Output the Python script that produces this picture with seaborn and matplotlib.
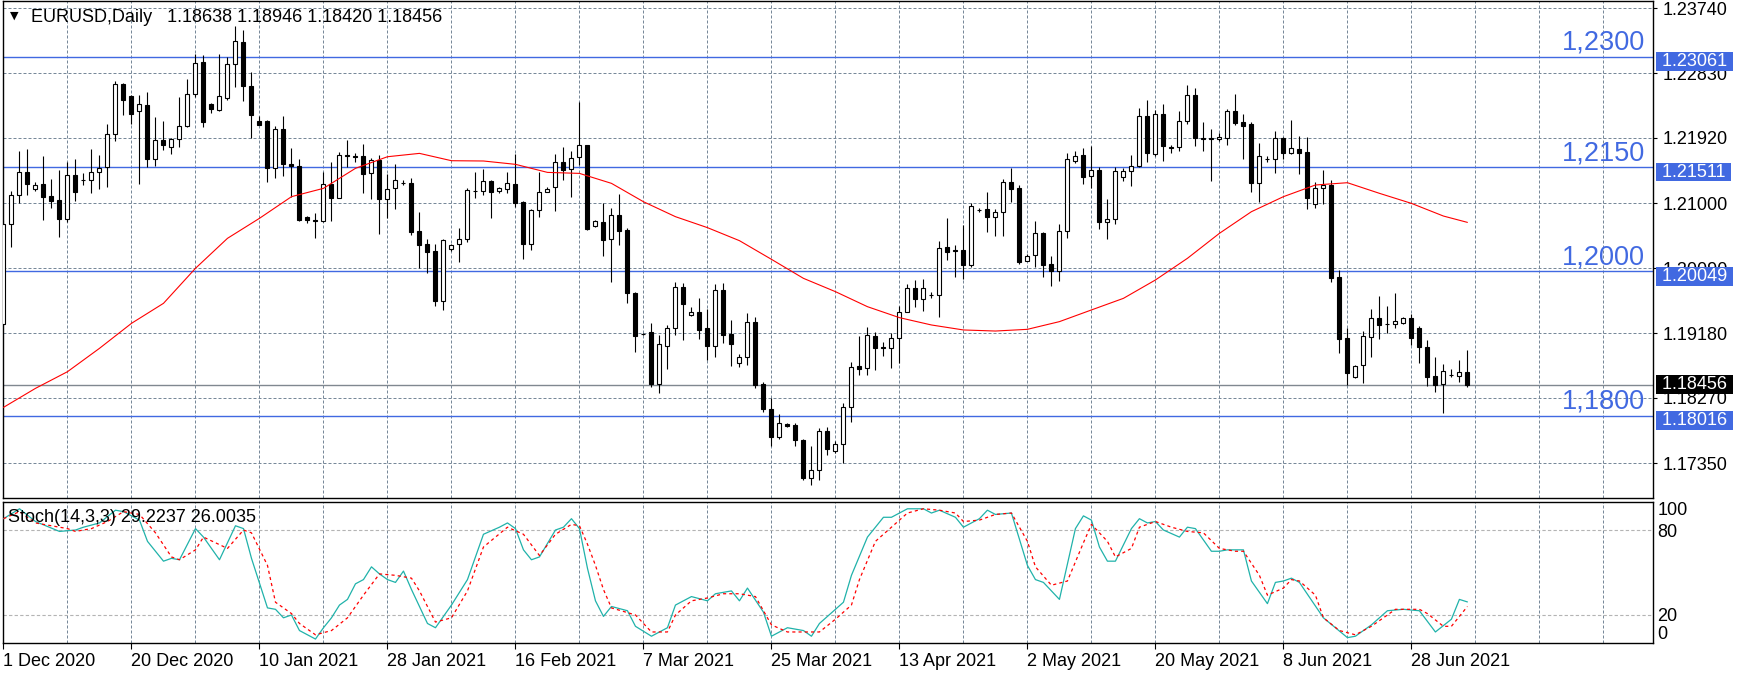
import matplotlib
matplotlib.use("Agg")
import matplotlib.pyplot as plt
from matplotlib.ticker import MultipleLocator
import seaborn as sns
import numpy as np

# EURUSD daily candles (bar 0 = 1 Dec 2020)
opens = [
    1.19307, 1.20706, 1.21113, 1.21436, 1.21198, 1.21273, 1.21100, 1.21043, 1.20786, 1.21394,
    1.21329, 1.21324, 1.21436, 1.21507, 1.21970, 1.22673, 1.22504, 1.22294, 1.22378, 1.21628,
    1.21886, 1.21797, 1.21900, 1.22083, 1.22542, 1.22987, 1.22397, 1.22317, 1.22476, 1.22954,
    1.23263, 1.22645, 1.22158, 1.22158, 1.21502, 1.22046, 1.21553, 1.21530, 1.20809, 1.20762,
    1.20758, 1.21273, 1.21081, 1.21675, 1.21661, 1.21666, 1.21422, 1.21610, 1.21067, 1.21212,
    1.21291, 1.21286, 1.20613, 1.20426, 1.20332, 1.19635, 1.20365, 1.20426, 1.20505, 1.21179,
    1.21174, 1.21315, 1.21179, 1.21207, 1.21273, 1.21020, 1.20435, 1.20903, 1.21165, 1.21226,
    1.21577, 1.21479, 1.21647, 1.21815, 1.20678, 1.20734, 1.20496, 1.20833, 1.20627, 1.19742,
    1.19171, 1.19190, 1.18468, 1.19003, 1.19246, 1.19822, 1.19429, 1.19471, 1.19246, 1.19003,
    1.19780, 1.19166, 1.18754, 1.18843, 1.19330, 1.18459, 1.18108, 1.17724, 1.17907, 1.17883,
    1.17673, 1.17150, 1.17256, 1.17804, 1.17518, 1.17617, 1.18136, 1.18716, 1.18693, 1.19138,
    1.18979, 1.18974, 1.19115, 1.19480, 1.19808, 1.19663, 1.19714, 1.19710, 1.20384, 1.20346,
    1.20346, 1.20140, 1.20908, 1.20917, 1.20814, 1.20875, 1.21305, 1.21216, 1.20196, 1.20271,
    1.20585, 1.20149, 1.20046, 1.20613, 1.21591, 1.21675, 1.21380, 1.21465, 1.20734, 1.20776,
    1.21366, 1.21450, 1.21520, 1.22223, 1.21699, 1.22251, 1.21797, 1.21788, 1.22153, 1.22518,
    1.21914, 1.21910, 1.21900, 1.21923, 1.22299, 1.22144, 1.22116, 1.21291, 1.21624, 1.21628,
    1.21919, 1.21703, 1.21759, 1.21717, 1.20988, 1.21212, 1.21254, 1.19967, 1.19110, 1.18558,
    1.18735, 1.19120, 1.19387, 1.19307, 1.19302, 1.19316, 1.19387, 1.19246, 1.18984, 1.18572,
    1.18459, 1.18590, 1.18581, 1.18638]
highs = [
    1.20767, 1.21174, 1.21736, 1.21764, 1.21301, 1.21670, 1.21343, 1.21465, 1.21577, 1.21619,
    1.21422, 1.21764, 1.21680, 1.22116, 1.22724, 1.22696, 1.22523, 1.22523, 1.22561, 1.22214,
    1.22158, 1.21923, 1.22490, 1.22748, 1.23099, 1.23085, 1.22406, 1.23099, 1.23052, 1.23492,
    1.23436, 1.22846, 1.22228, 1.22167, 1.22083, 1.22224, 1.21778, 1.21624, 1.20823, 1.20861,
    1.21446, 1.21577, 1.21717, 1.21890, 1.21703, 1.21834, 1.21638, 1.21675, 1.21418, 1.21553,
    1.21324, 1.21352, 1.20879, 1.20496, 1.20430, 1.20496, 1.20435, 1.20655, 1.21221, 1.21441,
    1.21479, 1.21329, 1.21230, 1.21441, 1.21694, 1.21034, 1.20926, 1.21441, 1.21226, 1.21694,
    1.21792, 1.21736, 1.22420, 1.21818, 1.20767, 1.21001, 1.20931, 1.21127, 1.20650, 1.19756,
    1.19185, 1.19321, 1.19153, 1.19293, 1.19897, 1.19878, 1.19541, 1.19667, 1.19518, 1.19869,
    1.19878, 1.19359, 1.18885, 1.19461, 1.19410, 1.18496, 1.18272, 1.18038, 1.17916, 1.17916,
    1.17690, 1.17593, 1.17851, 1.17865, 1.17663, 1.18192, 1.18768, 1.19138, 1.19260, 1.19190,
    1.19050, 1.19185, 1.19560, 1.19869, 1.19925, 1.19939, 1.19752, 1.20477, 1.20795, 1.20416,
    1.20697, 1.21001, 1.20936, 1.21160, 1.20922, 1.21338, 1.21502, 1.21259, 1.20290, 1.20753,
    1.20603, 1.20262, 1.20711, 1.21703, 1.21736, 1.21778, 1.21811, 1.21511, 1.21062, 1.21507,
    1.21497, 1.21680, 1.22336, 1.22453, 1.22313, 1.22392, 1.21816, 1.22299, 1.22664, 1.22617,
    1.22144, 1.22046, 1.21989, 1.22331, 1.22537, 1.22256, 1.22139, 1.21844, 1.21661, 1.22022,
    1.21938, 1.22172, 1.21947, 1.21938, 1.21296, 1.21469, 1.21329, 1.20065, 1.19246, 1.18726,
    1.19208, 1.19518, 1.19700, 1.19560, 1.19738, 1.19401, 1.19443, 1.19284, 1.19082, 1.18843,
    1.18745, 1.18669, 1.18801, 1.18946]
lows = [
    1.19293, 1.20393, 1.21001, 1.21113, 1.21179, 1.20767, 1.20936, 1.20533, 1.20744, 1.21034,
    1.21259, 1.21142, 1.21207, 1.21235, 1.21881, 1.22242, 1.22121, 1.21277, 1.21507, 1.21530,
    1.21755, 1.21694, 1.21797, 1.22079, 1.22500, 1.22079, 1.22266, 1.22303, 1.22453, 1.22640,
    1.22444, 1.21918, 1.22097, 1.21305, 1.21362, 1.21390, 1.21095, 1.20758, 1.20730, 1.20519,
    1.20744, 1.20758, 1.21081, 1.21516, 1.21582, 1.21151, 1.21062, 1.20571, 1.20791, 1.20922,
    1.21254, 1.20552, 1.20093, 1.20028, 1.19560, 1.19504, 1.20337, 1.20182, 1.20463, 1.21081,
    1.21118, 1.20800, 1.21151, 1.21151, 1.20945, 1.20224, 1.20346, 1.20809, 1.21160, 1.20898,
    1.21329, 1.21086, 1.21544, 1.20627, 1.20674, 1.20266, 1.19901, 1.20416, 1.19607, 1.18919,
    1.19157, 1.18426, 1.18342, 1.18679, 1.19148, 1.19087, 1.19425, 1.19101, 1.18806, 1.18843,
    1.19045, 1.18721, 1.18707, 1.18735, 1.18407, 1.18075, 1.17588, 1.17696, 1.17865, 1.17598,
    1.17110, 1.17040, 1.17120, 1.17467, 1.17490, 1.17350, 1.17935, 1.18590, 1.18590, 1.18660,
    1.18862, 1.18693, 1.18759, 1.19478, 1.19550, 1.19494, 1.19677, 1.19410, 1.20206, 1.19972,
    1.19935, 1.20112, 1.20884, 1.20604, 1.20547, 1.20547, 1.21015, 1.20149, 1.20194, 1.20112,
    1.19972, 1.19845, 1.19916, 1.20519, 1.21563, 1.21268, 1.21212, 1.20646, 1.20505, 1.20706,
    1.21320, 1.21249, 1.21516, 1.21586, 1.21666, 1.21600, 1.21713, 1.21741, 1.22111, 1.21811,
    1.21741, 1.21319, 1.21876, 1.21825, 1.22106, 1.21628, 1.21165, 1.21025, 1.21586, 1.21432,
    1.21624, 1.21700, 1.21418, 1.20917, 1.20931, 1.20992, 1.19901, 1.18904, 1.18449, 1.18555,
    1.18473, 1.18848, 1.19101, 1.19176, 1.19255, 1.19305, 1.19012, 1.18763, 1.18440, 1.18356,
    1.18061, 1.18567, 1.18496, 1.18420]
closes = [
    1.20711, 1.21113, 1.21436, 1.21268, 1.21254, 1.21095, 1.21039, 1.20786, 1.21394, 1.21165,
    1.21325, 1.21436, 1.21493, 1.21970, 1.22673, 1.22448, 1.22261, 1.22392, 1.21628, 1.21886,
    1.21825, 1.21904, 1.22083, 1.22532, 1.22968, 1.22149, 1.22327, 1.22504, 1.22954, 1.23277,
    1.22645, 1.22247, 1.22106, 1.21502, 1.22046, 1.21558, 1.21525, 1.20767, 1.20767, 1.20758,
    1.21273, 1.21081, 1.21675, 1.21661, 1.21658, 1.21418, 1.21605, 1.21067, 1.21198, 1.21333,
    1.21288, 1.20603, 1.20421, 1.20318, 1.19635, 1.20482, 1.20421, 1.20505, 1.21184, 1.21176,
    1.21310, 1.21165, 1.21221, 1.21282, 1.21011, 1.20435, 1.20903, 1.21156, 1.21198, 1.21577,
    1.21474, 1.21642, 1.21815, 1.20646, 1.20753, 1.20491, 1.20833, 1.20618, 1.19738, 1.19143,
    1.19168, 1.18468, 1.19022, 1.19246, 1.19822, 1.19593, 1.19471, 1.19227, 1.19003, 1.19780,
    1.19157, 1.19031, 1.18838, 1.19330, 1.18449, 1.18108, 1.17724, 1.17911, 1.17874, 1.17673,
    1.17150, 1.17256, 1.17804, 1.17546, 1.17621, 1.18136, 1.18698, 1.18679, 1.19148, 1.18974,
    1.18975, 1.19115, 1.19480, 1.19808, 1.19663, 1.19808, 1.19711, 1.20370, 1.20323, 1.20332,
    1.20140, 1.20959, 1.20905, 1.20814, 1.20880, 1.21305, 1.21207, 1.20177, 1.20262, 1.20580,
    1.20140, 1.20046, 1.20613, 1.21619, 1.21666, 1.21376, 1.21465, 1.20734, 1.20781, 1.21450,
    1.21450, 1.21525, 1.22223, 1.21713, 1.22251, 1.21802, 1.21774, 1.22153, 1.22518, 1.21914,
    1.21910, 1.21912, 1.21933, 1.22299, 1.22134, 1.22092, 1.21291, 1.21661, 1.21620, 1.21919,
    1.21713, 1.21778, 1.21713, 1.21081, 1.21212, 1.21254, 1.19958, 1.19101, 1.18623, 1.18721,
    1.19134, 1.19387, 1.19298, 1.19303, 1.19349, 1.19387, 1.19115, 1.18989, 1.18567, 1.18449,
    1.18646, 1.18586, 1.18628, 1.18456]

# red moving average, read every 4 bars
ma_bars = list(range(0, 181, 4)) + [183]
ma_values = [
    1.18136, 1.18403, 1.18637, 1.18965, 1.19316, 1.19597, 1.20089, 1.20510, 1.20791, 1.21095,
    1.21212, 1.21493, 1.21656, 1.21703, 1.21600, 1.21596, 1.21549, 1.21436, 1.21422, 1.21282,
    1.21024, 1.20814, 1.20660, 1.20477, 1.20215, 1.19948, 1.19761, 1.19550, 1.19396, 1.19293,
    1.19223, 1.19208, 1.19232, 1.19340, 1.19504, 1.19667, 1.19925, 1.20229, 1.20580, 1.20884,
    1.21095, 1.21259, 1.21291, 1.21142, 1.21001, 1.20823, 1.20734]

# Stochastic (14,3,3): %K main line and %D signal line
stoch_k_bars = [
    0, 2, 4, 7, 9, 10, 12, 14, 15, 17, 18, 20, 21, 22, 24, 25, 27, 29, 30, 31,
    33, 34, 35, 36, 37, 39, 40, 41, 42, 43, 44, 45, 46, 47, 48, 49, 50, 51, 53, 54,
    56, 58, 60, 62, 63, 64, 65, 66, 67, 69, 70, 71, 72, 73, 74, 75, 76, 78, 79, 81,
    83, 84, 86, 88, 89, 91, 92, 93, 95, 96, 98, 100, 101, 102, 105, 106, 108, 110, 111, 113,
    115, 116, 117, 119, 120, 122, 123, 124, 126, 128, 129, 130, 132, 134, 135, 136, 137, 138, 139, 141,
    142, 143, 144, 145, 147, 148, 149, 151, 152, 153, 155, 156, 158, 159, 160, 161, 162, 165, 168, 169,
    171, 173, 175, 177, 179, 181, 182, 183]
stoch_k_values = [
    88, 95, 86, 79, 80, 82, 85, 94, 93, 87, 72, 58, 60, 59, 81, 75, 59, 83, 81, 60,
    25, 24, 18, 20, 9, 3, 11, 18, 27, 31, 42, 45, 54, 49, 45, 43, 51, 38, 14, 11,
    27, 45, 77, 82, 85, 81, 66, 59, 61, 80, 82, 88, 81, 53, 30, 19, 26, 23, 12, 5,
    11, 27, 33, 30, 35, 37, 30, 39, 22, 5, 11, 9, 5, 14, 29, 48, 75, 89, 89, 95,
    95, 92, 94, 89, 82, 88, 94, 91, 92, 55, 45, 43, 31, 81, 90, 87, 68, 58, 58, 81,
    88, 85, 86, 80, 75, 82, 81, 65, 65, 66, 66, 44, 28, 43, 44, 46, 43, 18, 4, 5,
    13, 23, 24, 23, 8, 17, 31, 29.22]
stoch_d_bars = [
    0, 2, 4, 8, 9, 11, 13, 15, 17, 19, 21, 22, 24, 25, 28, 30, 31, 33, 34, 36,
    37, 39, 41, 43, 45, 47, 49, 51, 52, 54, 56, 58, 60, 63, 65, 67, 69, 71, 72, 73,
    74, 75, 76, 79, 81, 83, 84, 86, 88, 90, 92, 94, 96, 98, 100, 102, 104, 106, 107, 109,
    111, 113, 115, 117, 119, 120, 122, 124, 126, 128, 129, 131, 133, 135, 136, 138, 139, 141, 142, 144,
    146, 148, 150, 152, 154, 155, 157, 158, 160, 161, 162, 164, 165, 167, 169, 171, 173, 174, 177, 178,
    180, 181, 183]
stoch_d_values = [
    88, 93, 85, 81, 79, 81, 86, 93, 91, 78, 61, 59, 66, 75, 67, 80, 78, 55, 29, 21,
    14, 6, 9, 18, 34, 49, 48, 46, 37, 15, 18, 37, 68, 82, 77, 62, 77, 84, 83, 70,
    55, 38, 25, 20, 8, 8, 20, 30, 32, 35, 35, 33, 13, 8, 8, 8, 17, 27, 45, 72,
    82, 92, 95, 94, 92, 86, 87, 91, 92, 72, 54, 41, 44, 71, 84, 72, 61, 67, 82, 86,
    82, 79, 78, 67, 65, 65, 48, 34, 39, 45, 44, 34, 18, 9, 6, 12, 20, 24, 24, 21,
    12, 12, 26.0]

date_labels = ['1 Dec 2020', '20 Dec 2020', '10 Jan 2021', '28 Jan 2021', '16 Feb 2021',
               '7 Mar 2021', '25 Mar 2021', '13 Apr 2021', '2 May 2021', '20 May 2021',
               '8 Jun 2021', '28 Jun 2021']
price_ticks = [1.23740, 1.22830, 1.21920, 1.21000, 1.20090, 1.19180, 1.18270, 1.17350]
level_prices = [1.23061, 1.21511, 1.20049, 1.18016]
level_names = ['1,2300', '1,2150', '1,2000', '1,1800']
last_price = 1.18456
header = "EURUSD,Daily   1.18638 1.18946 1.18420 1.18456"
stoch_header = "Stoch(14,3,3) 29.2237 26.0035"

# style
sns.set_style("white")
plt.rcParams['font.family'] = ['Liberation Sans', 'DejaVu Sans']
plt.rcParams['font.size'] = 13
plt.rcParams['text.color'] = 'black'
plt.rcParams['xtick.color'] = 'black'
plt.rcParams['ytick.color'] = 'black'

GRID = '#778899'
BLUE = '#4169E1'
dash = (0, (3, 2))

fig = plt.figure(figsize=(17.41, 6.73), dpi=100)
ax = fig.add_axes([0.00155, 0.26003, 0.94790, 0.73848])
ax2 = fig.add_axes([0.00155, 0.04413, 0.94790, 0.21040], sharex=ax)

# candles
bars = np.arange(len(opens))
o = np.array(opens)
c = np.array(closes)
body_low = np.minimum(o, c)
body_h = np.maximum(np.abs(c - o), 0.00002)
colors = ['white' if cl >= op else 'black' for op, cl in zip(opens, closes)]
ax.vlines(bars, lows, highs, color='black', lw=0.8, zorder=3)
ax.bar(bars, body_h, bottom=body_low, width=0.5, color=colors,
       edgecolor='black', linewidth=0.8, zorder=4)

sns.lineplot(x=ma_bars, y=ma_values, ax=ax, color='red', linewidth=0.8, zorder=5)

# horizontal levels
for p, name in zip(level_prices, level_names):
    ax.axhline(p, color=BLUE, lw=1.0, zorder=2)
    ax.annotate(name, xy=(1, p), xycoords=('axes fraction', 'data'),
                xytext=(-8, 7), textcoords='offset pixels', ha='right', va='baseline',
                fontsize=19.5, color=BLUE, zorder=6)
    ax.annotate(' %.5f ' % p, xy=(1, p), xycoords=('axes fraction', 'data'),
                xytext=(4, -5), textcoords='offset pixels', ha='left', va='center',
                color='white', fontsize=13, annotation_clip=False, zorder=10,
                bbox=dict(boxstyle='square,pad=0.05', fc=BLUE, ec='none'))

ax.axhline(last_price, color='#808890', lw=1.0, zorder=2)
ax.annotate(' %.5f ' % last_price, xy=(1, last_price), xycoords=('axes fraction', 'data'),
            xytext=(4, 0), textcoords='offset pixels', ha='left', va='center',
            color='white', fontsize=13, annotation_clip=False, zorder=10,
            bbox=dict(boxstyle='square,pad=0.05', fc='black', ec='none'))

# header text
ax.annotate('\u25bc', xy=(0, 1), xycoords='axes fraction', xytext=(12, -15),
            textcoords='offset pixels', ha='center', va='center', fontsize=8,
            family='DejaVu Sans', color='black')
ax.annotate(header, xy=(0, 1), xycoords='axes fraction', xytext=(28, -16),
            textcoords='offset pixels', ha='left', va='center', fontsize=13, color='black')

# stochastic panel
ax2.axhline(80, color='#b4b4b4', lw=0.8, ls=dash, zorder=1)
ax2.axhline(20, color='#b4b4b4', lw=0.8, ls=dash, zorder=1)
sns.lineplot(x=stoch_k_bars, y=stoch_k_values, ax=ax2, color='#20B2AA', linewidth=0.9, zorder=4)
sns.lineplot(x=stoch_d_bars, y=stoch_d_values, ax=ax2, color='red', linewidth=0.9,
             linestyle=(0, (2.5, 2.5)), zorder=5)
ax2.annotate(stoch_header, xy=(0, 1), xycoords='axes fraction', xytext=(5, -16),
             textcoords='offset pixels', ha='left', va='center', fontsize=13,
             color='black', zorder=6)

# axes, ticks and grid
ax.set_xlim(-0.1, 206.2)
ax.set_ylim(1.16863, 1.23843)
ax2.set_ylim(0, 100)

ax2.set_xticks(list(range(0, len(opens), 16)), date_labels, ha='left')
ax2.xaxis.set_minor_locator(MultipleLocator(8))

for a in (ax, ax2):
    a.set_facecolor('white')
    a.set_xlabel('')
    a.set_ylabel('')
    for s in a.spines.values():
        s.set_visible(True)
        s.set_color('black')
        s.set_linewidth(1.0)
    a.grid(True, which='both', axis='x', color=GRID, linestyle=dash, linewidth=0.72)
    a.yaxis.tick_right()

ax.set_yticks(price_ticks, ['%.5f' % t for t in price_ticks])
ax.grid(True, which='major', axis='y', color=GRID, linestyle=dash, linewidth=0.72)
ax.tick_params(axis='x', which='both', bottom=False, labelbottom=False)
ax.tick_params(axis='y', right=True, left=False, direction='out', length=3,
               width=0.8, pad=4, labelsize=13)

ax2.set_yticks([0, 20, 80, 100], ['0', '20', '80', '100'])
for lbl in ax2.get_yticklabels():
    if lbl.get_text() == '100':
        lbl.set_va('top')
    elif lbl.get_text() == '0':
        lbl.set_va('bottom')
ax2.tick_params(axis='y', right=True, left=False, length=0, pad=3, labelsize=13)
ax2.tick_params(axis='x', which='major', bottom=True, direction='out', length=4,
                width=0.8, pad=3, labelsize=13)
ax2.tick_params(axis='x', which='minor', bottom=False)

fig.savefig('out.png', dpi=100)
